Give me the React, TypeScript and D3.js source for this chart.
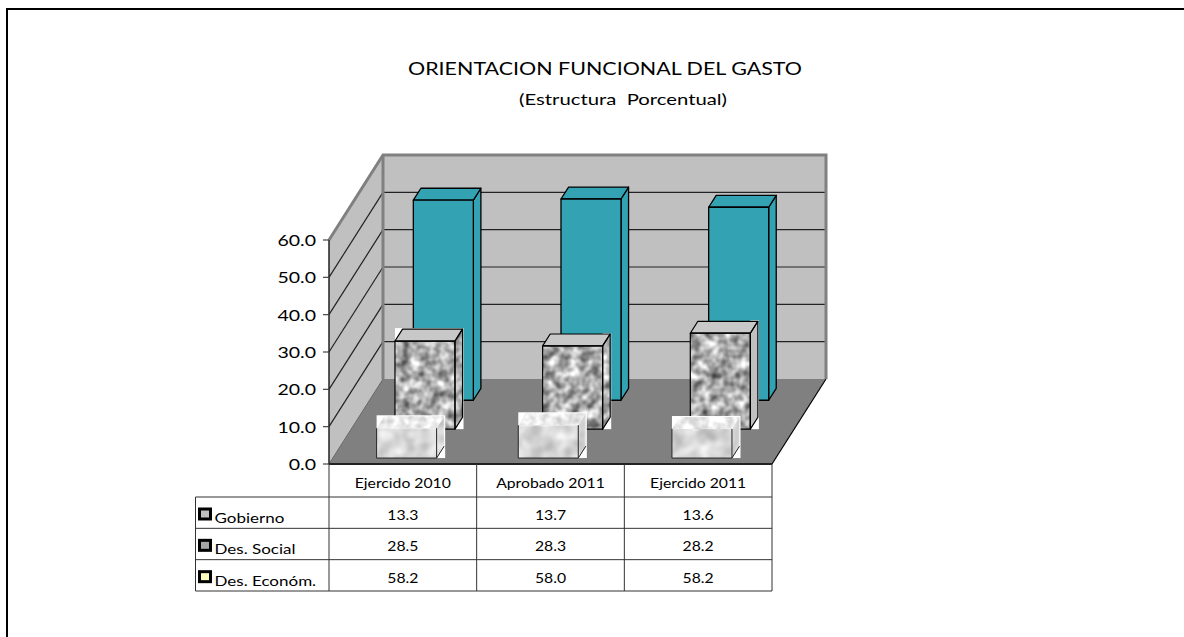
import React from 'react';
import * as d3 from 'd3';

const categories = ['Ejercido 2010', 'Aprobado 2011', 'Ejercido 2011'];
const series = ['Gobierno', 'Des. Social', 'Des. Económ.'];

// numbers printed in the table
const gobierno = ['13.3', '13.7', '13.6'];
const desSocial = ['28.5', '28.3', '28.2'];
const desEconom = ['58.2', '58.0', '58.2'];

// bar heights as read against the axis (the picture draws them shorter than the table says)
const gobiernoBars = [8.0, 8.8, 7.8];
const socialBars = [23.6, 22.3, 25.7];
const economBars = [53.6, 53.9, 51.7];

const yTicks = [0, 10, 20, 30, 40, 50, 60];

const FONT = "Lato, 'Open Sans', sans-serif";
const TEAL = '#33a3b3';
const WALL = '#c0c0c0';
const FLOOR = '#808080';

const plotLeft = 329;
const plotRight = 772;
const depthDx = 54;
const depthDy = -85;
const barDepth = 0.14;
const barWidth = 60;
const textStretch = 1.26;

const y = d3.scaleLinear().domain([0, 60]).range([464, 240]);
const x = d3.scaleBand().domain(categories).range([plotLeft, plotRight]);
const depth = d3.scalePoint().domain(series).range([0.07, 0.75]);
const rowY = d3.scaleBand().domain(series).range([497, 591]);

const poly = (pts: [number, number][]) => d3.line()(pts) + 'Z';

// the source text is Calibri pulled wide, so every label gets the same horizontal stretch
function Label({ px, py, size, anchor, children }: { px: number; py: number; size: number; anchor?: string; children: React.ReactNode }) {
  return (
    <text transform={`translate(${px},${py}) scale(${textStretch},1)`} textAnchor={anchor} fontSize={size} fill="#000">
      {children}
    </text>
  );
}

function Bar({ cat, ser, value, kind }: { cat: string; ser: string; value: number; kind: string }) {
  const d = depth(ser)!;
  const shift = kind === 'front' && cat === categories[1] ? -6 : 0;
  const left = x(cat)! + x.bandwidth() / 2 - barWidth / 2 + d * depthDx + shift;
  const right = left + barWidth;
  const base = y(0) + d * depthDy;
  const top = base - (y(0) - y(value));
  const dx = barDepth * depthDx;
  const dy = barDepth * depthDy;

  const front = poly([[left, top], [right, top], [right, base], [left, base]]);
  const side = poly([[right, top], [right + dx, top + dy], [right + dx, base + dy], [right, base]]);
  const cap = poly([[left, top], [left + dx, top + dy], [right + dx, top + dy], [right, top]]);

  if (kind === 'back') {
    return (
      <g fill={TEAL} stroke="#000" strokeWidth={1.3} strokeLinejoin="round">
        <path d={side} />
        <path d={cap} />
        <path d={front} />
      </g>
    );
  }
  const isMid = kind === 'mid';
  const fullBox = !isMid || cat === categories[0];
  const boxLeft = fullBox ? left : right;
  const plainSide = isMid && cat === categories[2];
  return (
    <g>
      <rect x={boxLeft} y={top + dy - 1} width={right + dx - boxLeft + 1} height={base - top - dy + 1} fill="#fff" />
      {isMid ? (
        <g>
          <path d={side} fill={plainSide ? WALL : '#bbb'} filter={plainSide ? undefined : 'url(#mottleDark)'} />
          <path d={cap} fill="#c8c8c8" />
          <path d={front} fill="#aaa" filter="url(#mottleDark)" />
          <g fill="none" stroke="#000" strokeWidth={1.2} strokeLinejoin="round">
            <path d={side} />
            <path d={cap} />
            <path d={front} />
          </g>
        </g>
      ) : (
        <g>
          <path d={side} fill="#eee" filter="url(#mottleLight)" />
          <path d={cap} fill="#e4e4e4" filter="url(#mottleCap)" />
          <path d={front} fill="#ddd" filter="url(#mottleLight)" />
          <path d={`M${left},${top}L${left},${base}L${right},${base}L${right},${top}`} fill="none" stroke="#222" strokeWidth={1} />
          <path d={`M${right},${base}L${right + dx},${base + dy}`} fill="none" stroke="#222" strokeWidth={1} />
        </g>
      )}
    </g>
  );
}

export default function App() {
  const floorY = y(0);
  const backY = floorY + depthDy;
  const backLeft = plotLeft + depthDx;
  const backRight = plotRight + depthDx;
  const wallTop = y(60) + depthDy;

  const rows = [gobierno, desSocial, desEconom];
  const keyColors = ['#c0c0c0', '#a6a6a6', '#ffffc0'];
  const colEdges = [plotLeft, ...categories.map((c) => x(c)! + x.bandwidth())];

  return (
    <svg width={1184} height={637} style={{ position: 'absolute', left: 0, top: 0, background: '#fff' }} fontFamily={FONT}>
      <defs>
        <filter id="mottleDark" x="0" y="0" width="1" height="1" colorInterpolationFilters="sRGB">
          <feTurbulence type="fractalNoise" baseFrequency="0.1" numOctaves={2} seed={4} />
          <feColorMatrix values="1.1 0 0 0 0.13  1.1 0 0 0 0.13  1.1 0 0 0 0.13  0 0 0 0 1" />
          <feGaussianBlur stdDeviation="0.7" />
          <feComposite in2="SourceAlpha" operator="in" />
        </filter>
        <filter id="mottleLight" x="0" y="0" width="1" height="1" colorInterpolationFilters="sRGB">
          <feTurbulence type="fractalNoise" baseFrequency="0.07" numOctaves={2} seed={9} />
          <feColorMatrix values="0.4 0 0 0 0.64  0.4 0 0 0 0.64  0.4 0 0 0 0.64  0 0 0 0 1" />
          <feGaussianBlur stdDeviation="0.8" />
          <feComposite in2="SourceAlpha" operator="in" />
        </filter>
        <filter id="mottleCap" x="0" y="0" width="1" height="1" colorInterpolationFilters="sRGB">
          <feTurbulence type="fractalNoise" baseFrequency="0.12" numOctaves={2} seed={2} />
          <feColorMatrix values="0.4 0 0 0 0.72  0.4 0 0 0 0.72  0.4 0 0 0 0.72  0 0 0 0 1" />
          <feComposite in2="SourceAlpha" operator="in" />
        </filter>
      </defs>

      {/* page frame, only top and left show */}
      <path d="M1184,9H7V637" fill="none" stroke="#000" strokeWidth={2} />

      <text x={408} y={75} fontSize={18} fill="#000" textLength={394} lengthAdjust="spacingAndGlyphs">ORIENTACION FUNCIONAL DEL GASTO</text>
      <text x={519} y={105} fontSize={15} fill="#000" textLength={208} lengthAdjust="spacingAndGlyphs" xmlSpace="preserve">(Estructura  Porcentual)</text>

      {/* walls and floor */}
      <path d={poly([[plotLeft, floorY], [backLeft, backY], [backLeft, wallTop], [plotLeft, y(60)]])} fill={WALL} />
      <rect x={backLeft} y={wallTop} width={backRight - backLeft} height={backY - wallTop} fill={WALL} />
      <path d={poly([[plotLeft, floorY], [backLeft, backY], [backRight, backY], [plotRight, floorY]])} fill={FLOOR} />

      {yTicks.slice(1, -1).map((t) => (
        <g key={t} stroke="#222" strokeWidth={1.2}>
          <line x1={backLeft} x2={backRight} y1={y(t) + depthDy} y2={y(t) + depthDy} />
          <line x1={plotLeft} x2={backLeft} y1={y(t)} y2={y(t) + depthDy} />
        </g>
      ))}
      <line x1={plotLeft} x2={backLeft} y1={floorY} y2={backY} stroke="#666" strokeWidth={1} />
      <line x1={plotRight} x2={backRight} y1={floorY} y2={backY} stroke="#000" strokeWidth={1.2} />
      <path d={`M${plotLeft},${y(60)}L${backLeft},${wallTop}H${backRight}V${backY}`} fill="none" stroke={FLOOR} strokeWidth={3} />
      <line x1={backLeft} x2={backLeft} y1={wallTop} y2={backY} stroke={FLOOR} strokeWidth={3} />

      {/* bars, back row first */}
      {categories.map((c, i) => <Bar key={c} cat={c} ser={series[2]} value={economBars[i]} kind="back" />)}
      {categories.map((c, i) => <Bar key={c} cat={c} ser={series[1]} value={socialBars[i]} kind="mid" />)}
      {categories.map((c, i) => <Bar key={c} cat={c} ser={series[0]} value={gobiernoBars[i]} kind="front" />)}

      {/* y axis */}
      <line x1={plotLeft} x2={plotLeft} y1={y(60)} y2={floorY} stroke="#222" strokeWidth={1.5} />
      {yTicks.map((t) => (
        <g key={t}>
          <line x1={plotLeft - 6} x2={plotLeft} y1={y(t)} y2={y(t)} stroke="#444" strokeWidth={1.2} />
          <Label px={316} py={y(t) + 6} size={15.5} anchor="end">{t.toFixed(1)}</Label>
        </g>
      ))}

      {/* data table */}
      <line x1={plotLeft} x2={plotRight} y1={floorY} y2={floorY} stroke="#222" strokeWidth={2} />
      <g stroke="#333" strokeWidth={1}>
        {colEdges.map((e) => <line key={e} x1={e} x2={e} y1={floorY} y2={591} />)}
        <line x1={195.5} x2={195.5} y1={497} y2={591} />
        {[...series.map((s) => rowY(s)!), 591].map((v) => (
          <line key={v} x1={195.5} x2={plotRight} y1={v} y2={v} />
        ))}
      </g>
      {categories.map((c) => (
        <Label key={c} px={x(c)! + x.bandwidth() / 2} py={488} size={12.5} anchor="middle">{c}</Label>
      ))}
      {series.map((s, r) => (
        <g key={s}>
          <rect x={199.5} y={rowY(s)! + 12} width={11} height={10} fill={keyColors[r]} stroke="#000" strokeWidth={3} />
          <Label px={214.5} py={rowY(s)! + 26} size={13.5}>{s}</Label>
          {categories.map((c, i) => (
            <Label key={c} px={x(c)! + x.bandwidth() / 2} py={rowY(s)! + 23} size={12.5} anchor="middle">{rows[r][i]}</Label>
          ))}
        </g>
      ))}
    </svg>
  );
}
